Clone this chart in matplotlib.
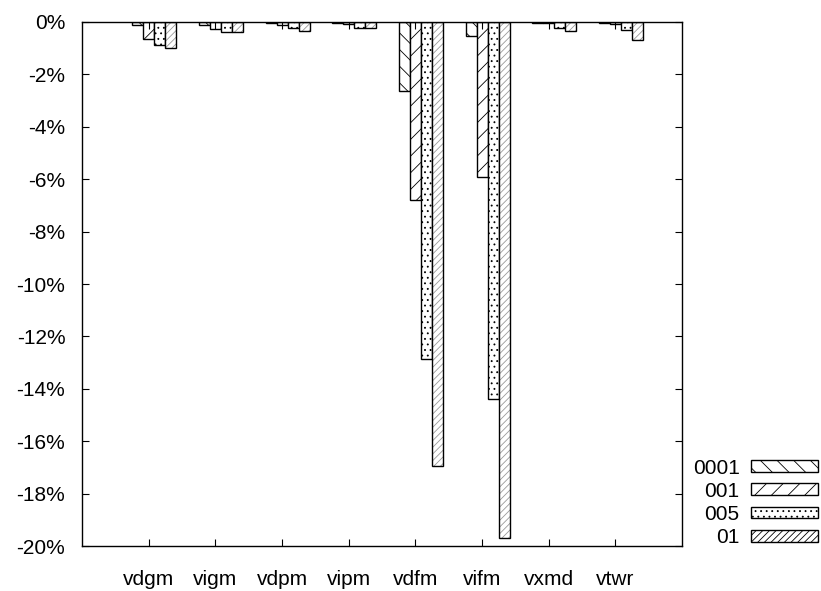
import matplotlib
matplotlib.use('Agg')
import matplotlib.pyplot as plt
import numpy as np

plt.rcParams['font.family'] = ['Liberation Sans', 'DejaVu Sans']
plt.rcParams['hatch.linewidth'] = 0.6

# benchmarks and relative change (%) for each setting
benchmarks = ['vdgm', 'vigm', 'vdpm', 'vipm', 'vdfm', 'vifm', 'vxmd', 'vtwr']
series_names = ['0001', '001', '005', '01']
s0001 = [-0.11, -0.12, -0.05, -0.05, -2.64, -0.52, -0.02, -0.03]
s001 = [-0.64, -0.26, -0.10, -0.08, -6.80, -5.92, -0.05, -0.08]
s005 = [-0.86, -0.38, -0.23, -0.22, -12.88, -14.38, -0.23, -0.32]
s01 = [-1.01, -0.38, -0.36, -0.22, -16.96, -19.70, -0.36, -0.70]
yticks = [0, -2, -4, -6, -8, -10, -12, -14, -16, -18, -20]

hatches = ['\\\\', '//', '...', '/////']
hatch_colors = ['black', 'black', 'black', '0.6']

fig = plt.figure(figsize=(8.21, 5.91), dpi=100)
ax = fig.add_axes([0.0999, 0.0761, 0.7308, 0.8867])

x = np.arange(1, len(benchmarks) + 1)
width = 0.165
offsets = [-1, 0, 1, 2]
all_series = [s0001, s001, s005, s01]

handles = []
for vals, off, name, h, hc in zip(all_series, offsets, series_names, hatches, hatch_colors):
    # hatch layer first, then black outline on top
    ax.bar(x + off * width, vals, width, color='white', edgecolor=hc,
           linewidth=0, hatch=h)
    ax.bar(x + off * width, vals, width, fill=False, edgecolor='black',
           linewidth=1.0)
    handles.append(plt.Rectangle((0, 0), 1, 1, facecolor='white', edgecolor=hc,
                                 hatch=h, linewidth=0))

ax.set_xlim(0, 9)
ax.set_ylim(-20, 0)
ax.set_xticks(x)
ax.set_xticklabels(benchmarks)
ax.set_yticks(yticks)
ax.set_yticklabels(['%d%%' % t for t in yticks])
ax.tick_params(direction='in', length=5, width=0.8, top=True, right=True,
               labelsize=15)
ax.tick_params(axis='x', pad=17)
ax.tick_params(axis='y', pad=12)
for sp in ax.spines.values():
    sp.set_linewidth(1.0)

leg = ax.legend(handles, series_names, loc='lower left', bbox_to_anchor=(1.004, -0.018),
                markerfirst=False, frameon=False, fontsize=15, handlelength=3.2,
                handleheight=0.5, labelspacing=0.2, handletextpad=0.55,
                borderaxespad=0)
for p in leg.get_patches():
    p.set_edgecolor('black')
    p.set_linewidth(1.0)

fig.savefig('out.png', dpi=100)
